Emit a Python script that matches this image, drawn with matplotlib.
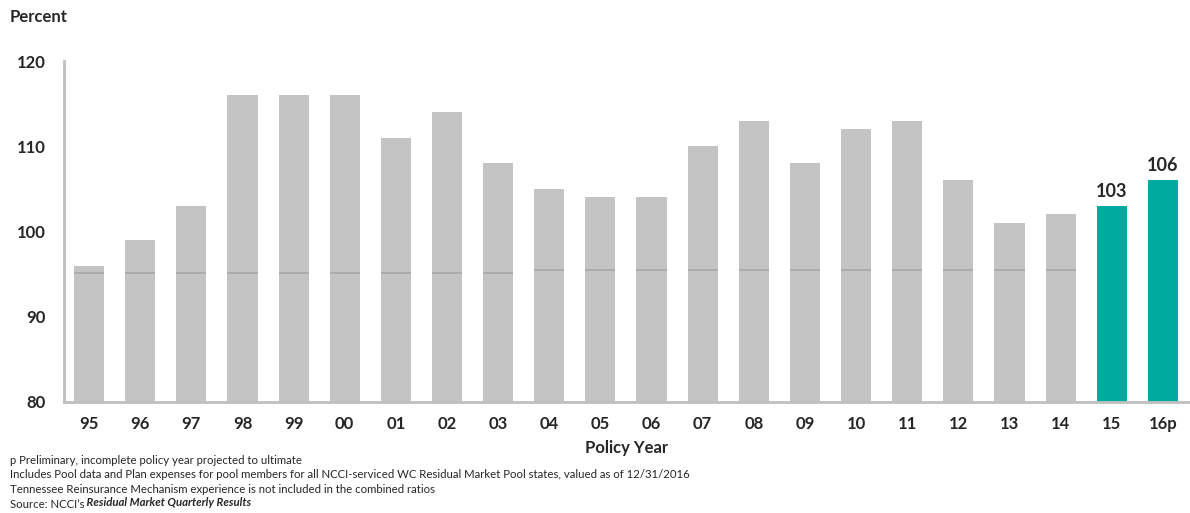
import matplotlib.pyplot as plt
import numpy as np

plt.rcParams['font.family'] = ['Lato', 'DejaVu Sans']

years = ['95', '96', '97', '98', '99', '00', '01', '02', '03', '04', '05',
         '06', '07', '08', '09', '10', '11', '12', '13', '14', '15', '16p']
combined_ratio = [96, 99, 103, 116, 116, 116, 111, 114, 108, 105, 104,
                  104, 110, 113, 108, 112, 113, 106, 101, 102, 103, 106]
# inner reference level shown on the historical bars
inner_level = [95.1, 95.1, 95.1, 95.1, 95.1, 95.1, 95.1, 95.1, 95.1, 95.5, 95.5,
               95.5, 95.5, 95.5, 95.5, 95.5, 95.5, 95.5, 95.5, 95.5]
highlight = ['15', '16p']

footnotes = [
    'p Preliminary, incomplete policy year projected to ultimate',
    'Includes Pool data and Plan expenses for pool members for all NCCI-serviced WC Residual Market Pool states, valued as of 12/31/2016',
    'Tennessee Reinsurance Mechanism experience is not included in the combined ratios',
]

GRAY = '#c4c4c4'
GRAY_LINE = '#a9a9a9'
TEAL = '#00aa9e'
TEXT = '#262626'
NOTE_SIZE = 8.2

fig = plt.figure(figsize=(11.9, 5.13), dpi=100)
ax = fig.add_axes([64 / 1190, 1 - 402 / 513, 1 - 64 / 1190, (402 - 61) / 513])

x = np.arange(len(years))
width = 0.59
colors = [TEAL if y in highlight else GRAY for y in years]
ax.bar(x, combined_ratio, width=width, color=colors, bottom=0, zorder=2)

for i, lvl in enumerate(inner_level):
    ax.hlines(lvl, x[i] - width / 2, x[i] + width / 2, color=GRAY_LINE, lw=1.3, zorder=3)

for i, y in enumerate(years):
    if y in highlight:
        ax.text(x[i], combined_ratio[i] + 0.7, str(combined_ratio[i]), ha='center', va='bottom',
                fontsize=13, fontweight='bold', color=TEXT)

ax.set_ylim(80, 120)
ax.set_xlim(-0.49, len(years) - 0.47)
ax.set_yticks([80, 90, 100, 110, 120])
ax.set_xticks(x)
ax.set_xticklabels(years)
ax.tick_params(axis='both', length=0, labelsize=12, labelcolor=TEXT)
ax.tick_params(axis='y', pad=13)
ax.tick_params(axis='x', pad=10)
for lab in ax.get_xticklabels() + ax.get_yticklabels():
    lab.set_fontweight('bold')

for side in ['top', 'right']:
    ax.spines[side].set_visible(False)
for side in ['left', 'bottom']:
    ax.spines[side].set_color('#bfbfbf')
    ax.spines[side].set_linewidth(2)

ax.set_xlabel('Policy Year', fontsize=12, fontweight='bold', color=TEXT, labelpad=6)

fig.text(10 / 1190, 1 - 17 / 513, 'Percent', fontsize=12, fontweight='bold', color=TEXT,
         va='center', ha='left')

for k, line in enumerate(footnotes):
    fig.text(10 / 1190, 1 - (460 + 14.8 * k) / 513, line, fontsize=NOTE_SIZE, color=TEXT,
             va='center', ha='left')
src = fig.text(10 / 1190, 1 - 504 / 513, 'Source: NCCI\u2019s', fontsize=NOTE_SIZE, color=TEXT,
               va='center', ha='left')
fig.text(0, 0, ' Residual Market Quarterly Results', fontsize=NOTE_SIZE, color=TEXT,
         fontweight='bold', style='italic', va='baseline', ha='left',
         transform=src.get_transform())
# place the bold title right after the plain prefix
fig.canvas.draw()
bb = src.get_window_extent().transformed(fig.transFigure.inverted())
fig.texts[-1].set_position((bb.x1, bb.y0 + 0.0035))
fig.texts[-1].set_va('bottom')

fig.savefig('out.png', dpi=100)
